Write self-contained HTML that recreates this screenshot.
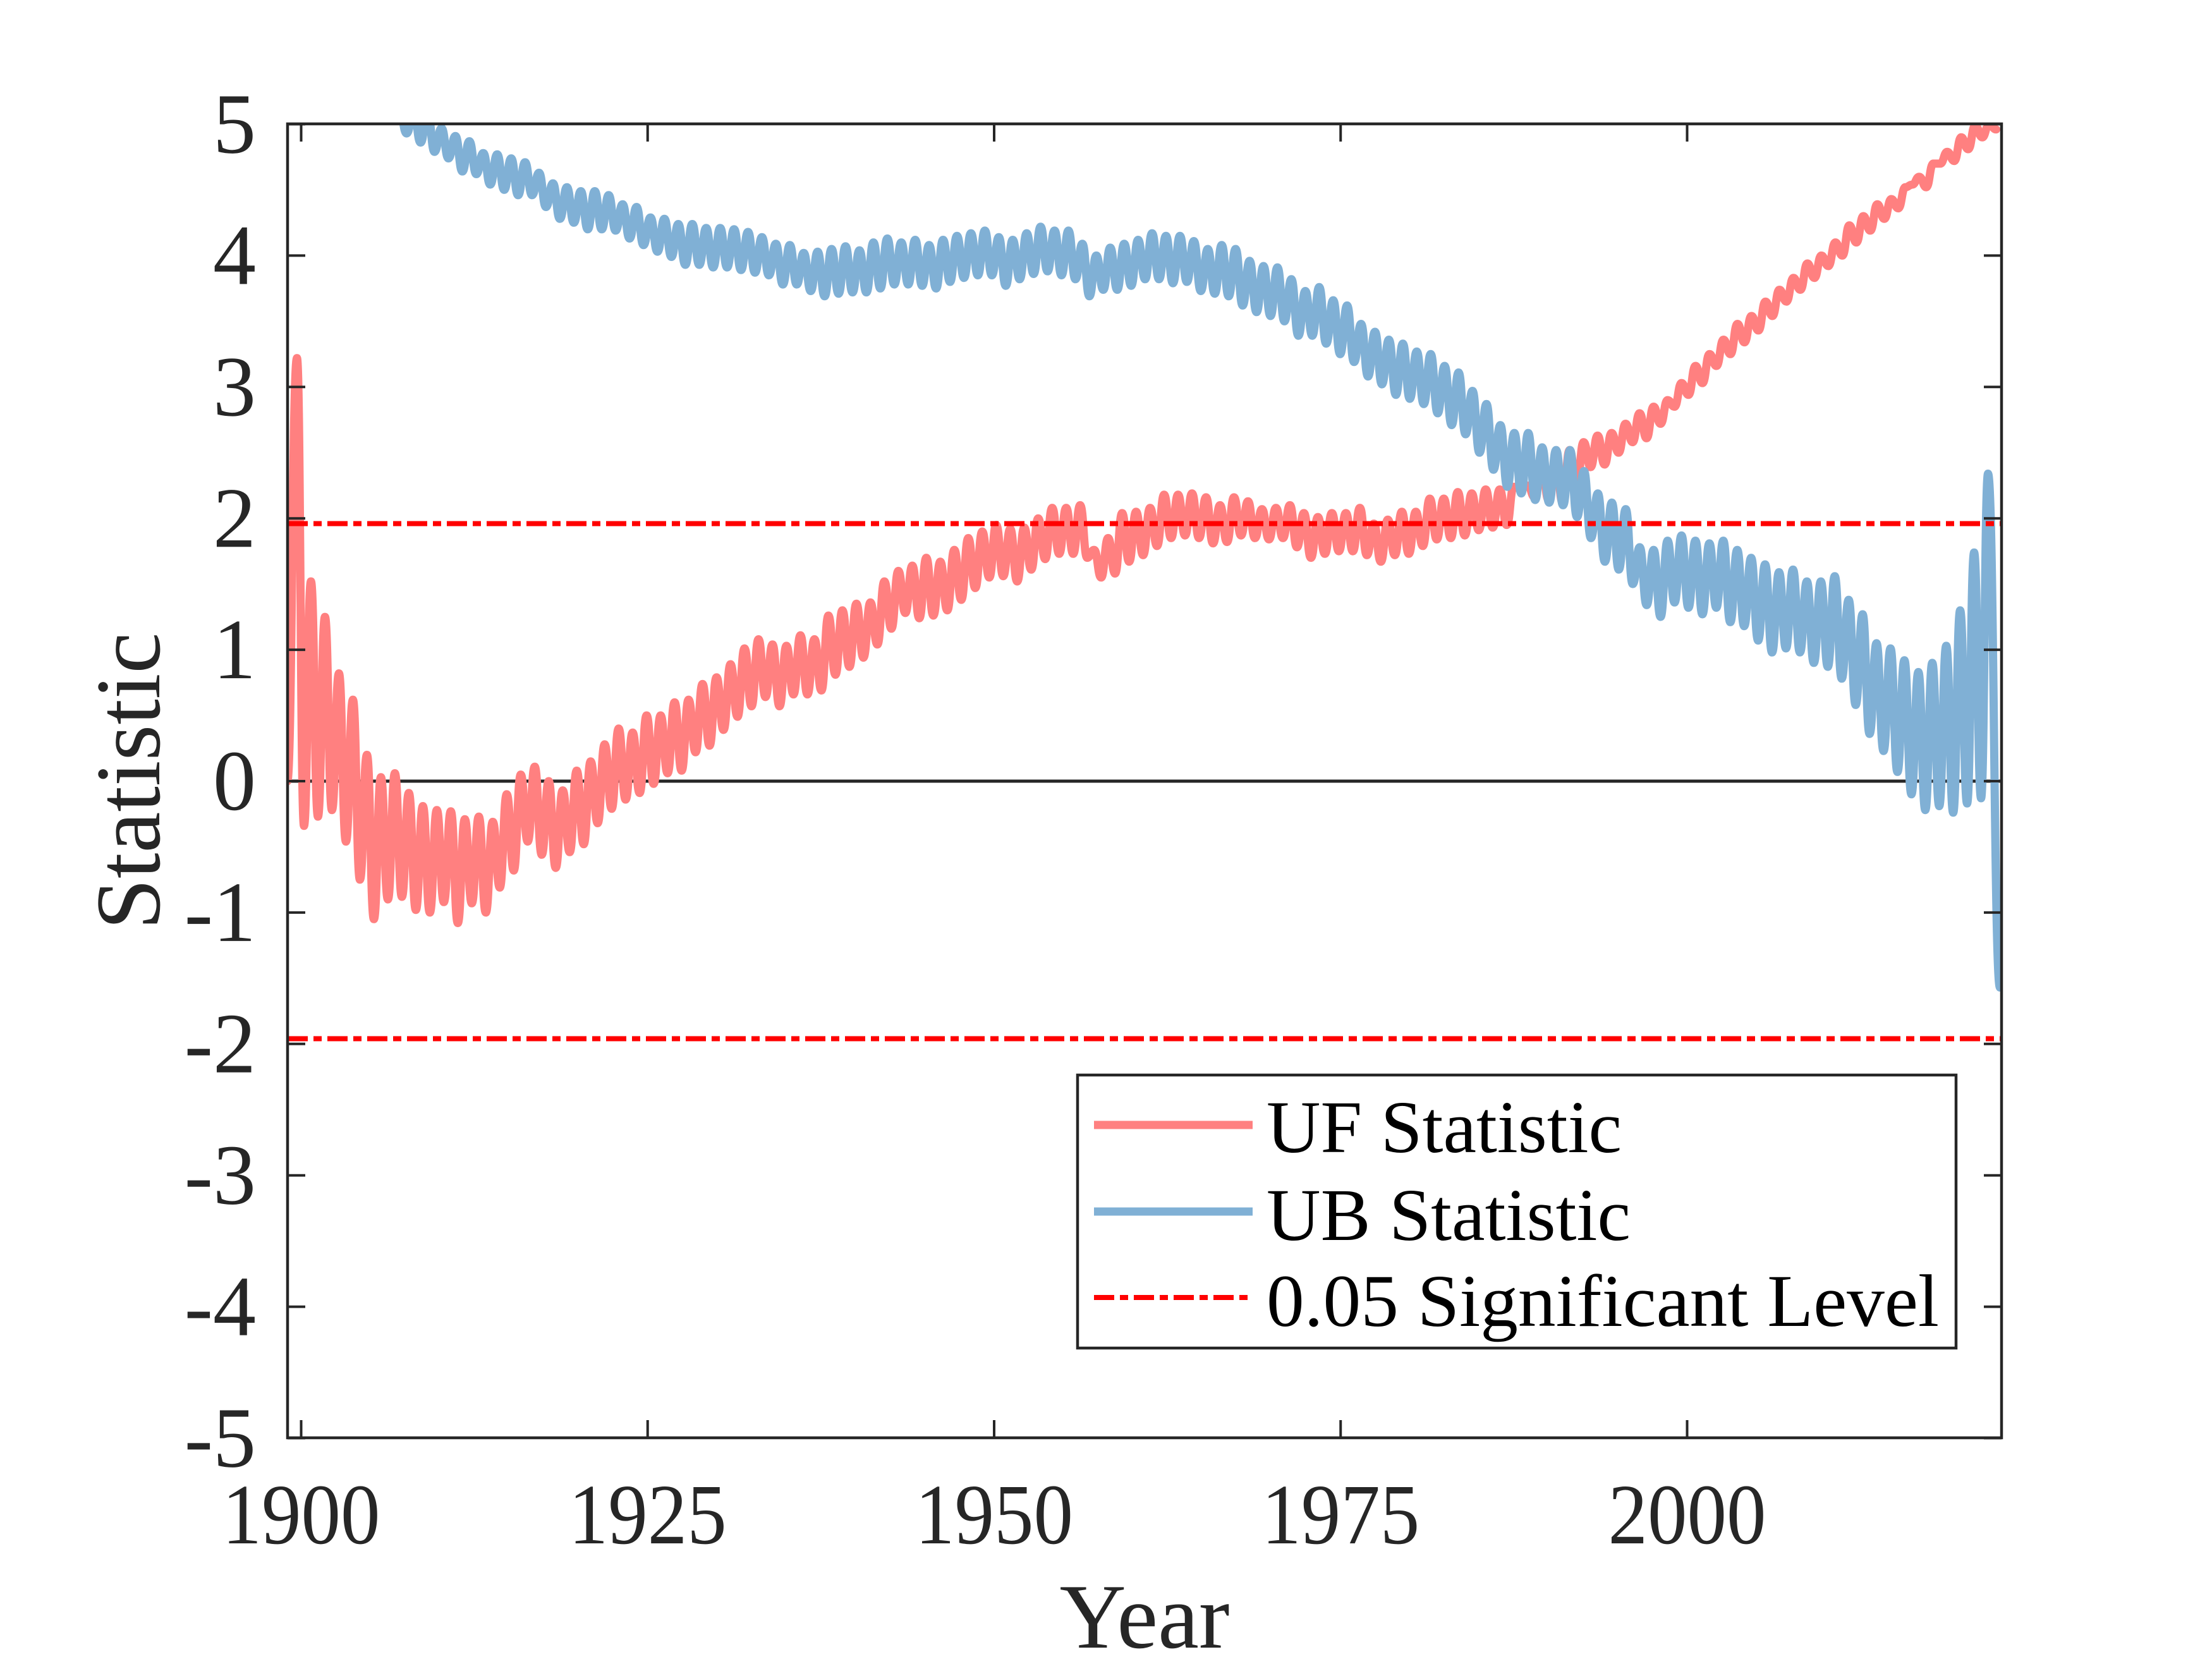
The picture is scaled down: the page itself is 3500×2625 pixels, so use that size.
<!DOCTYPE html>
<html><head><meta charset="utf-8"><style>
html,body{margin:0;padding:0;background:#fff;}
svg{display:block;}
text{font-family:"Liberation Serif","Times New Roman",serif;fill:#262626;}
</style></head><body>
<svg id="chart" width="3500" height="2625" viewBox="0 0 3500 2625" xmlns="http://www.w3.org/2000/svg">
<defs><clipPath id="plotclip"><rect x="455" y="196" width="2712" height="2079"/></clipPath></defs>
<rect width="3500" height="2625" fill="#fff"/>
<g id="series" clip-path="url(#plotclip)"></g>
<g id="axes"></g>
<g id="legend"></g>
</svg>
<script>
const xTicks = [1900, 1925, 1950, 1975, 2000];
const yTicks = [5, 4, 3, 2, 1, 0, -1, -2, -3, -4, -5];
const sigLevels = [1.96, -1.96];
const ufStart = [1899.0, 0];
const ufRange = [1899.7, 2022.3];
const ufPeaks = [3.22,1.52,1.25,0.82,0.62,0.2,0.03,0.06,-0.09,-0.19,-0.22,-0.23,-0.29,-0.27,-0.31,-0.1,0.05,0.11,0,-0.07,0.08,0.15,0.28,0.4,0.37,0.5,0.5,0.6,0.62,0.74,0.79,0.89,1.01,1.08,1.04,1.03,1.11,1.08,1.26,1.3,1.35,1.36,1.52,1.6,1.64,
1.70,1.67,1.76,1.85,1.9,1.95,1.92,1.93,2.0,2.08,2.08,2.1,1.76,1.85,2.04,2.05,2.08,2.18,2.18,2.19,2.16,2.1,2.16,2.13,2.07,2.08,2.1,2.04,2.01,2.04,2.04,2.08,1.96,1.99,2.05,2.05,2.15,2.15,2.2,2.19,2.22,2.22,2.24,
2.25,2.4,2.45,2.52,2.58,2.63,2.65,2.72,2.8,2.85,2.9,3.03,3.16,3.25,3.36,3.48,3.54,3.65,3.74,3.83,3.94,4.0,4.1,4.23,4.3,4.39,4.43,4.52,4.6,4.7,4.79,4.9,4.99,5.0];
const ufTroughs = [-0.34,-0.27,-0.22,-0.46,-0.75,-1.05,-0.9,-0.88,-0.98,-1.0,-0.92,-1.08,-0.93,-1.0,-0.81,-0.68,-0.46,-0.56,-0.66,-0.54,-0.48,-0.32,-0.21,-0.14,-0.09,-0.02,0.06,0.08,0.22,0.27,0.39,0.49,0.57,0.64,0.57,0.66,0.66,0.69,0.81,0.87,0.94,1.04,1.16,1.28,
1.24,1.26,1.3,1.38,1.47,1.55,1.56,1.52,1.61,1.69,1.73,1.73,1.7,1.55,1.58,1.67,1.72,1.79,1.85,1.87,1.85,1.81,1.82,1.87,1.85,1.84,1.85,1.78,1.7,1.73,1.75,1.75,1.72,1.67,1.72,1.73,1.79,1.84,1.85,1.87,1.91,1.93,1.95,
2.23,2.16,2.14,2.12,2.23,2.39,2.41,2.5,2.58,2.61,2.72,2.85,2.94,3.03,3.16,3.25,3.34,3.43,3.54,3.65,3.74,3.83,3.92,4.0,4.1,4.19,4.28,4.36,4.54,4.52,4.7,4.72,4.81,4.9,4.96];
const ubStart = [1906.6, 5.3];
const ubRange = [1907.11, 2021.71];
const ubPeaks = [5.1,5.1,5.1,4.97,4.91,4.87,4.78,4.77,4.74,4.71,4.63,4.55,4.52,4.49,4.49,4.46,4.39,4.37,4.29,4.28,4.24,4.24,4.21,4.21,4.2,4.18,4.14,4.09,4.08,4.02,4.03,4.05,4.07,4.04,4.1,4.13,4.1,4.12,
4.08,4.12,4.15,4.17,4.19,4.14,4.12,4.17,4.22,4.19,4.19,4.09,4.0,4.06,4.09,4.12,4.17,4.15,4.15,4.11,4.05,4.08,4.05,3.96,3.92,3.91,3.82,3.73,3.76,3.66,3.62,3.48,3.42,3.36,3.33,3.27,3.25,3.16,3.11,2.97,2.87,2.71,
2.65,2.65,2.54,2.52,2.52,2.36,2.19,2.12,2.07,1.78,1.76,1.83,1.87,1.83,1.81,1.83,1.76,1.7,1.65,1.59,1.61,1.52,1.52,1.56,1.38,1.27,1.05,1.01,0.92,0.83,0.9,1.03,1.3,1.74,2.34];
const ubTroughs = [4.93,4.86,4.79,4.74,4.64,4.62,4.54,4.5,4.46,4.46,4.37,4.28,4.25,4.2,4.2,4.19,4.13,4.08,4.03,3.99,3.93,3.93,3.91,3.91,3.89,3.87,3.85,3.78,3.78,3.73,3.69,3.71,3.72,3.72,3.75,3.78,3.78,3.77,3.75,
3.8,3.83,3.85,3.85,3.77,3.82,3.86,3.88,3.85,3.82,3.69,3.74,3.74,3.77,3.82,3.82,3.79,3.8,3.73,3.71,3.69,3.62,3.57,3.54,3.5,3.39,3.39,3.33,3.25,3.19,3.08,3.02,2.94,2.91,2.87,2.8,2.71,2.64,2.5,2.37,2.24,
2.19,2.14,2.12,2.1,2.01,1.85,1.67,1.61,1.5,1.34,1.25,1.36,1.32,1.27,1.32,1.21,1.18,1.07,0.98,1.01,0.98,0.9,0.87,0.78,0.58,0.36,0.23,0.07,-0.1,-0.22,-0.19,-0.24,-0.17,-0.13];
const ubEndYears = [2022.57, 2022.88];
const ubEndValues = [-1.57, -1.45];

const NS = "http://www.w3.org/2000/svg";
const L = 455, R = 3167, T = 196, B = 2275;
const X0 = 1900, XPX0 = 476.5, PXY = 21.93;
function xs(yr){ return XPX0 + (yr - X0) * PXY; }
function ys(v){ return 1236 - v * 207.9; }
function mk(tag, attrs, parent){ const e = document.createElementNS(NS, tag); for (const k in attrs) e.setAttribute(k, attrs[k]); parent.appendChild(e); return e; }

function buildPoints(start, peaks, troughs, range, extraYears, extraVals){
  const seq = [];
  const n = Math.max(peaks.length, troughs.length);
  for (let i=0;i<n;i++){
    if (i < peaks.length) seq.push(peaks[i]);
    if (i < troughs.length) seq.push(troughs[i]);
  }
  const step = (range[1]-range[0])/(seq.length-1);
  const pts = [[start[0], start[1]]];
  seq.forEach((v,k)=>pts.push([range[0]+k*step, v]));
  if (extraYears) extraYears.forEach((y,i)=>pts.push([y, extraVals[i]]));
  return pts;
}
function pathFrom(pts){
  let d = "M" + xs(pts[0][0]).toFixed(1) + "," + ys(pts[0][1]).toFixed(1);
  for (let i=1;i<pts.length;i++){
    const x0 = xs(pts[i-1][0]), y0 = ys(pts[i-1][1]), x1 = xs(pts[i][0]), y1 = ys(pts[i][1]);
    const dx = (x1-x0)/2;
    d += " C" + (x0+dx).toFixed(1) + "," + y0.toFixed(1) + " " + (x1-dx).toFixed(1) + "," + y1.toFixed(1) + " " + x1.toFixed(1) + "," + y1.toFixed(1);
  }
  return d;
}

const series = document.getElementById('series');
const axes = document.getElementById('axes');
const legend = document.getElementById('legend');

const zl = mk('line', {x1:L, x2:R, y1:ys(0), y2:ys(0), stroke:'#262626', 'stroke-width':5}, series);



const uf = mk('path', {d: pathFrom(buildPoints(ufStart, ufPeaks, ufTroughs, ufRange)), fill:'none', stroke:'#FF8080', 'stroke-width':13, 'stroke-linejoin':'round', 'stroke-linecap':'round'}, series);



const ub = mk('path', {d: pathFrom(buildPoints(ubStart, ubPeaks, ubTroughs, ubRange, ubEndYears, ubEndValues)), fill:'none', stroke:'#80B0D5', 'stroke-width':13, 'stroke-linejoin':'round', 'stroke-linecap':'round'}, series);



sigLevels.forEach(v=>{
  const s = mk('line', {x1:L, x2:R, y1:ys(v), y2:ys(v), stroke:'#FF0000', 'stroke-width':8, 'stroke-dasharray':'32 9 13 9'}, series);
  
  
});

const box = mk('rect', {x:L, y:T, width:R-L, height:B-T, fill:'none', stroke:'#262626', 'stroke-width':4.5}, axes);



xTicks.forEach(t=>{
  const x = xs(t);
  const a = mk('line', {x1:x, x2:x, y1:B, y2:B-28, stroke:'#262626', 'stroke-width':4}, axes);
  
  
  const b = mk('line', {x1:x, x2:x, y1:T, y2:T+28, stroke:'#262626', 'stroke-width':4}, axes);
  
  
  const tx = mk('text', {x:x, y:2442, 'font-size':136, 'text-anchor':'middle', textLength:250, lengthAdjust:'spacingAndGlyphs'}, axes);
  tx.textContent = String(t);
  
  
});
yTicks.forEach(t=>{
  const y = ys(t);
  const a = mk('line', {x1:L, x2:L+28, y1:y, y2:y, stroke:'#262626', 'stroke-width':4}, axes);
  
  
  const b = mk('line', {x1:R, x2:R-28, y1:y, y2:y, stroke:'#262626', 'stroke-width':4}, axes);
  
  
  const tx = mk('text', {x:405, y:y+45, 'font-size':136, 'text-anchor':'end'}, axes);
  tx.textContent = String(t);
  
  
});
const xt = mk('text', {x:1811, y:2607, 'font-size':146, 'text-anchor':'middle'}, axes);
xt.textContent = 'Year';


const yt = mk('text', {x:0, y:0, 'font-size':146, 'text-anchor':'middle', transform:'translate(252,1236) rotate(-90)'}, axes);
yt.textContent = 'Statistic';



const lb = mk('rect', {x:1705, y:1701, width:1390, height:432, fill:'#fff', stroke:'#262626', 'stroke-width':4.5}, legend);


const legItems = [
  {label:'UF Statistic', color:'#FF8080', dash:null, y:1780, base:1823, len:562, name:'legend-entry-uf'},
  {label:'UB Statistic', color:'#80B0D5', dash:null, y:1917, base:1962, len:576, name:'legend-entry-ub'},
  {label:'0.05 Significant Level', color:'#FF0000', dash:'32 9 13 9', y:2053, base:2098, len:1064, name:'legend-entry-significance'}
];
legItems.forEach(it=>{
  const g = mk('g', {}, legend);
  
  
  const attrs = {x1:1731, x2:1982, y1:it.y, y2:it.y, stroke:it.color, 'stroke-width': it.dash ? 8 : 13};
  if (it.dash) attrs['stroke-dasharray'] = it.dash;
  const ln = mk('line', attrs, g);
  
  
  const tx = mk('text', {x:2004, y:it.base, 'font-size':118, textLength:it.len, lengthAdjust:'spacingAndGlyphs', style:'fill:#000'}, g);
  tx.textContent = it.label;
  
  
});
</script>
</body></html>
